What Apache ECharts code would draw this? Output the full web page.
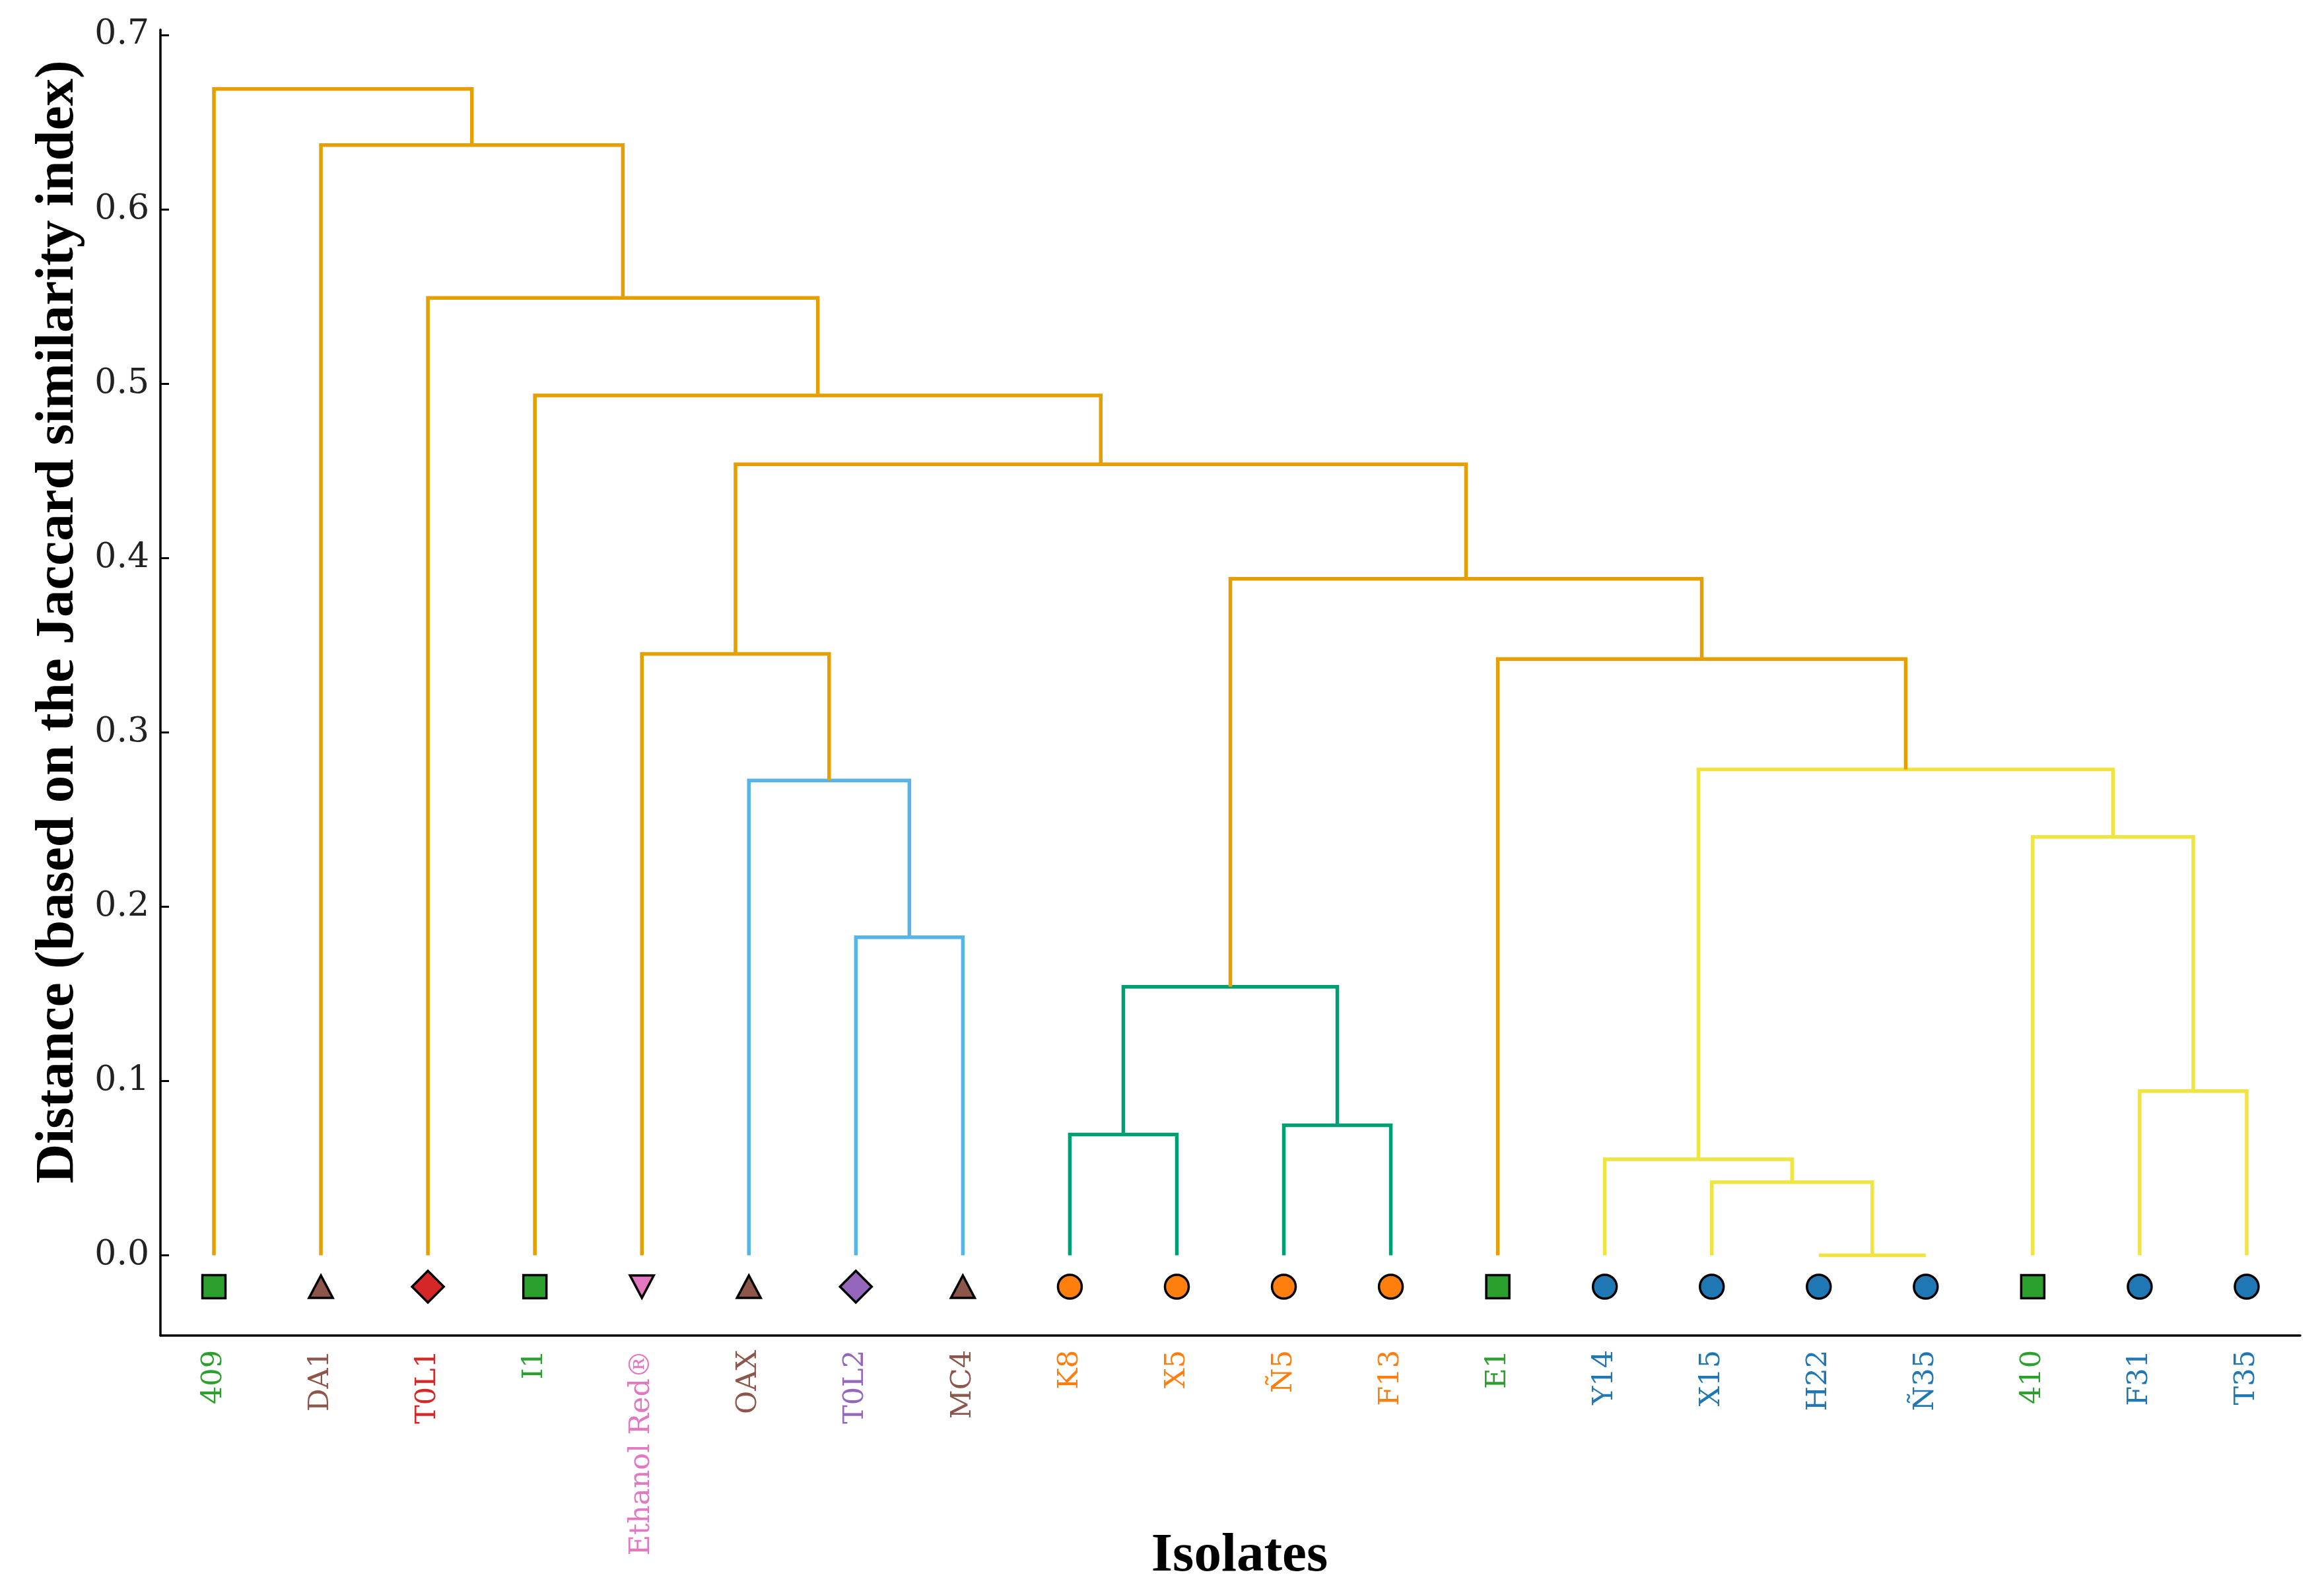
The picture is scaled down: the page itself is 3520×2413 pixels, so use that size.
<!DOCTYPE html>
<html>
<head>
<meta charset="utf-8">
<script src="https://cdn.jsdelivr.net/npm/echarts@6/dist/echarts.min.js"></script>
<style>
html,body{margin:0;padding:0;background:#fff;}
#chart{width:3520px;height:2413px;}
</style>
</head>
<body>
<div id="chart"></div>
<script>
// Leaves in dendrogram order
const leaves = ['409','DA1','T0L1','I1','Ethanol Red\u00AE','OAX','T0L2','MC4','K8','X5','\u00D15','F13','E1','Y14','X15','H22','\u00D135','410','F31','T35'];
// group of each isolate (marker + label colour)
const leafGroup = ['green','brown','red','green','pink','brown','purple','brown','orange','orange','orange','orange','green','blue','blue','blue','blue','green','blue','blue'];
// Linkage: [left, right, height, cluster colour]; ids >= 20 refer to earlier merges (20 + row index)
const mergeLeft   = [15, 14, 13, 18, 17, 22, 12,  8, 10, 27, 29,  6,  5,  4, 33,  3,  2,  1,  0];
const mergeRight  = [16, 20, 21, 19, 23, 24, 25,  9, 11, 28, 26,  7, 31, 32, 30, 34, 35, 36, 37];
const mergeHeight = [0.000, 0.0419, 0.0551, 0.0942, 0.240, 0.2787, 0.342, 0.0693, 0.0746, 0.154, 0.388, 0.1824, 0.2724, 0.345, 0.4537, 0.4932, 0.5492, 0.6368, 0.669];
const mergeColor  = ['yellow','yellow','yellow','yellow','yellow','yellow','orange','green','green','green','orange','blue','blue','orange','orange','orange','orange','orange','orange'];
// y-axis ticks
const yTicks = [0.0, 0.1, 0.2, 0.3, 0.4, 0.5, 0.6, 0.7];

const linkPalette = {orange:'#E69F00', yellow:'#F0E442', green:'#009E73', blue:'#56B4E9'};
const groupColor = {green:'#2ca02c', brown:'#8c564b', red:'#d62728', pink:'#e377c2', purple:'#9467bd', orange:'#ff7f0e', blue:'#1f77b4'};
const groupSymbol = {green:'rect', brown:'triangle', red:'diamond', pink:'triangle', purple:'diamond', orange:'circle', blue:'circle'};
const groupSize = {green:[35,35], brown:[36,34], red:[48,48], pink:[36,34], purple:[48,48], orange:[36,36], blue:[36,36]};
const groupRotate = {pink:180};
const MARKER_Y = -0.018;

// position of nodes (dendrogram convention: leaf i at 10*i+5, merge at mean of children)
const nodeX = leaves.map((_, i) => 10 * i + 5);
const nodeH = leaves.map(() => 0);
const links = [];
for (let k = 0; k < mergeLeft.length; k++) {
  const a = mergeLeft[k], b = mergeRight[k], h = mergeHeight[k];
  const xa = nodeX[a], xb = nodeX[b];
  links.push({
    coords: [[xa, nodeH[a]], [xa, h], [xb, h], [xb, nodeH[b]]],
    lineStyle: {color: linkPalette[mergeColor[k]]}
  });
  nodeX.push((xa + xb) / 2);
  nodeH.push(h);
}

const chart = echarts.init(document.getElementById('chart'), null, {renderer:'canvas'});
chart.setOption({
  backgroundColor:'#ffffff',
  animation:false,
  grid:{left:243, right:36, top:45, bottom:390, containLabel:false, outerBoundsMode:'none'},
  xAxis:[
    {
      type:'category',
      data: leaves.map((name, i) => ({value:name, textStyle:{color: groupColor[leafGroup[i]]}})),
      boundaryGap:true,
      position:'bottom',
      axisLine:{show:true, onZero:false, lineStyle:{color:'#000', width:3.5}},
      axisTick:{show:false},
      splitLine:{show:false},
      axisLabel:{rotate:90, interval:0, margin:22, fontFamily:'DejaVu Serif', fontSize:43},
      name:'Isolates', nameLocation:'middle', nameGap:293, nameMoveOverlap:false,
      nameTextStyle:{fontFamily:'Liberation Serif', fontWeight:'bold', fontSize:83, color:'#000', padding:[0,0,0,28]}
    },
    {type:'value', min:0, max:200, show:false, position:'bottom', splitLine:{show:false}}
  ],
  yAxis:{
    type:'value', min:-0.046, max:0.703,
    axisLine:{show:true, onZero:false, lineStyle:{color:'#000', width:3.5}},
    axisTick:{show:true, inside:true, length:13, lineStyle:{color:'#000', width:3}, customValues: yTicks},
    axisLabel:{customValues: yTicks, formatter: v => Number(v).toFixed(1), fontFamily:'DejaVu Serif', fontSize:52, color:'#222', margin:17},
    splitLine:{show:false},
    name:'Distance (based on the Jaccard similarity index)',
    nameLocation:'middle', nameGap:113,
    nameTextStyle:{fontFamily:'Liberation Serif', fontWeight:'bold', fontSize:83, color:'#000', padding:[0,0,0,184]}
  },
  series:[
    {
      type:'lines', coordinateSystem:'cartesian2d', xAxisIndex:1, yAxisIndex:0,
      polyline:true, silent:true, lineStyle:{width:5.5, opacity:1},
      data: links
    },
    {
      type:'scatter', xAxisIndex:1, yAxisIndex:0, silent:true,
      itemStyle:{borderColor:'#000', borderWidth:3.5, opacity:1},
      data: leaves.map((name, i) => {
        const g = leafGroup[i];
        return {
          value:[nodeX[i], MARKER_Y],
          symbol: groupSymbol[g],
          symbolSize: groupSize[g],
          symbolRotate: groupRotate[g] || 0,
          itemStyle:{color: groupColor[g]}
        };
      })
    }
  ]
});
</script>
</body>
</html>
